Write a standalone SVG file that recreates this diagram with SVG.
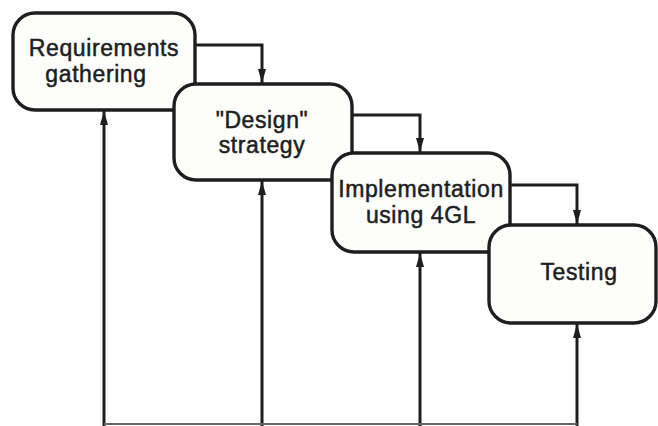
<svg xmlns="http://www.w3.org/2000/svg" width="658" height="426" viewBox="0 0 658 426">
<defs>
<marker id="ah" viewBox="0 0 14 10" refX="14" refY="5" markerWidth="14" markerHeight="10" markerUnits="userSpaceOnUse" orient="auto">
<path d="M0,1 L14,5 L0,9 Z" fill="#1e1e1e"/>
</marker>
</defs>
<style>
.box{fill:#fdfdfc;stroke:#1e1e1e;stroke-width:3.4}
.lbl{font-family:"Liberation Sans",Arial,sans-serif;font-size:23px;letter-spacing:0.6px;fill:#1e1e1e;stroke:#1e1e1e;stroke-width:0.5;text-anchor:middle}
.c{fill:none;stroke:#1e1e1e;stroke-width:3}
</style>
<rect width="658" height="426" fill="#ffffff"/>
<g id="connectors">
<path class="c" d="M195,45 H262 V83" marker-end="url(#ah)"/>
<path class="c" d="M352,115 H420 V152" marker-end="url(#ah)"/>
<path class="c" d="M510,185 H577 V224" marker-end="url(#ah)"/>
<path class="c" d="M104,426 V111" marker-end="url(#ah)"/>
<path class="c" d="M262,426 V181" marker-end="url(#ah)"/>
<path class="c" d="M420,426 V253" marker-end="url(#ah)"/>
<path class="c" d="M577,426 V324" marker-end="url(#ah)"/>
<path d="M104,424 H577" fill="none" stroke="#666" stroke-width="2"/>
</g>
<g id="requirements">
<rect class="box" x="13" y="13" width="182" height="97" rx="22"/>
<text class="lbl" x="104" y="56">Requirements</text>
<text class="lbl" x="96" y="82">gathering</text>
</g>
<g id="design">
<rect class="box" x="174" y="84" width="178" height="96" rx="22"/>
<text class="lbl" x="262" y="128">"Design"</text>
<text class="lbl" x="262" y="153">strategy</text>
</g>
<g id="implementation">
<rect class="box" x="332" y="153" width="178" height="99" rx="22"/>
<text class="lbl" x="421" y="197">Implementation</text>
<text class="lbl" x="421" y="223">using 4GL</text>
</g>
<g id="testing">
<rect class="box" x="489" y="225" width="167" height="98" rx="22"/>
<text class="lbl" x="579" y="280">Testing</text>
</g>
</svg>
